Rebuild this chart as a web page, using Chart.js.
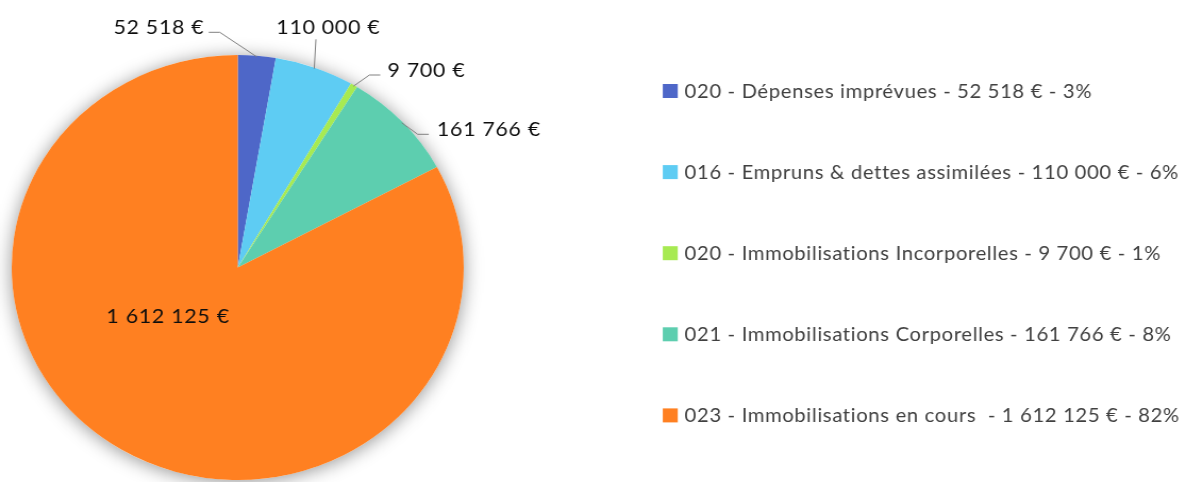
<!DOCTYPE html>
<html>
<head>
<meta charset="utf-8">
<script src="https://cdn.jsdelivr.net/npm/chart.js@4"></script>
<style>
  html, body { margin: 0; padding: 0; background: #ffffff; overflow: hidden; }
  #wrap { width: 1115px; height: 482px; transform: scaleX(1.06368); transform-origin: 0 0; }
  canvas { display: block; }
</style>
</head>
<body>
<div id="wrap"><canvas id="chart" width="1115" height="482"></canvas></div>
<script>
// ---- data ----
const categories = [
  '020 - Dépenses imprévues',
  '016 - Empruns & dettes assimilées',
  '020 - Immobilisations Incorporelles',
  '021 - Immobilisations Corporelles',
  '023 - Immobilisations en cours '
];
const values = [52518, 110000, 9700, 161766, 1612125];
const valueLabels = ['52 518 €', '110 000 €', '9 700 €', '161 766 €', '1 612 125 €'];
const percentLabels = ['3%', '6%', '1%', '8%', '82%'];
const colors = ['#4E67C8', '#5ECCF3', '#A7EA52', '#5DCEAF', '#FF8021'];

const legendTexts = categories.map((c, i) => c + ' - ' + valueLabels[i] + ' - ' + percentLabels[i]);

// ---- style / placement (offsets from pie centre, unstretched px) ----
const labelPlacement = [
  { x: -31.4, y: -240.8, align: 'right',  elbow: [[-27.3, -235.2], [-16.9, -235.2]] },
  { x: 85.2,  y: -240.8, align: 'center', elbow: [[73.5, -228.2]] },
  { x: 140.8, y: -197.5, align: 'left',   elbow: [[134.0, -192.5], [123.8, -192.5]] },
  { x: 187.3, y: -139.2, align: 'left',   elbow: [[179.6, -133.2], [169.2, -133.2]] },
  { x: -65.5, y: 48.5,   align: 'center', elbow: null }
];
const FONT = 'Lato, "Open Sans", sans-serif';
const LABEL_SIZE = 20, LABEL_TARGET_W = 115.9;   // width of the widest value label
const LEGEND_SIZE = 19, LEGEND_TARGET_W = 383;    // width of first legend row
const legendStyle = { boxX: 623.1, boxW: 14.1, boxH: 14, textX: 643.6, top: 91, gap: 81.1, color: '#404040' };

function fitSpacing(ctx, text, size, target) {
  ctx.font = size + 'px ' + FONT;
  if ('letterSpacing' in ctx) ctx.letterSpacing = '0px';
  const w = ctx.measureText(text).width;
  return Math.max(0, (target - w) / text.length);
}

const shadowPlugin = {
  id: 'pieShadow',
  beforeDatasetsDraw(chart) {
    const arc = chart.getDatasetMeta(0).data[0];
    const ctx = chart.ctx;
    ctx.save();
    ctx.shadowColor = 'rgba(0,0,0,0.42)';
    ctx.shadowBlur = 18;
    ctx.shadowOffsetY = 2;
    ctx.fillStyle = '#ffffff';
    ctx.beginPath();
    ctx.arc(arc.x, arc.y, arc.outerRadius, 0, Math.PI * 2);
    ctx.fill();
    ctx.restore();
  }
};

const valueLabelPlugin = {
  id: 'valueLabels',
  afterDatasetsDraw(chart) {
    const ctx = chart.ctx;
    const arcs = chart.getDatasetMeta(0).data;
    const cx = arcs[0].x, cy = arcs[0].y;
    const spacing = fitSpacing(ctx, valueLabels[4], LABEL_SIZE, LABEL_TARGET_W);
    ctx.save();
    arcs.forEach((arc, i) => {
      const p = labelPlacement[i];
      if (p.elbow) {
        const mid = (arc.startAngle + arc.endAngle) / 2;
        const r = arc.outerRadius * 0.995;
        ctx.strokeStyle = '#808080';
        ctx.lineWidth = 1;
        ctx.beginPath();
        ctx.moveTo(cx + p.elbow[0][0], cy + p.elbow[0][1]);
        for (let k = 1; k < p.elbow.length; k++) ctx.lineTo(cx + p.elbow[k][0], cy + p.elbow[k][1]);
        ctx.lineTo(cx + Math.cos(mid) * r, cy + Math.sin(mid) * r);
        ctx.stroke();
      }
      ctx.font = LABEL_SIZE + 'px ' + FONT;
      if ('letterSpacing' in ctx) ctx.letterSpacing = spacing.toFixed(2) + 'px';
      ctx.fillStyle = '#0D0D0D';
      ctx.textBaseline = 'alphabetic';
      const w = ctx.measureText(valueLabels[i]).width;
      let x = cx + p.x;
      if (p.align === 'right') x -= w;
      else if (p.align === 'center') x -= w / 2;
      ctx.textAlign = 'left';
      ctx.fillText(valueLabels[i], x, cy + p.y + LABEL_SIZE * 0.36);
    });
    ctx.restore();
  }
};

const legendPlugin = {
  id: 'sideLegend',
  afterDraw(chart) {
    const ctx = chart.ctx;
    const s = legendStyle;
    const spacing = fitSpacing(ctx, legendTexts[0], LEGEND_SIZE, LEGEND_TARGET_W);
    ctx.save();
    legendTexts.forEach((t, i) => {
      const y = s.top + i * s.gap;
      ctx.fillStyle = colors[i];
      ctx.fillRect(s.boxX, y - s.boxH / 2, s.boxW, s.boxH);
      ctx.font = LEGEND_SIZE + 'px ' + FONT;
      if ('letterSpacing' in ctx) ctx.letterSpacing = spacing.toFixed(2) + 'px';
      ctx.fillStyle = s.color;
      ctx.textAlign = 'left';
      ctx.textBaseline = 'alphabetic';
      ctx.fillText(t, s.textX, y + LEGEND_SIZE * 0.36);
    });
    ctx.restore();
  }
};

new Chart(document.getElementById('chart'), {
  type: 'pie',
  data: {
    labels: legendTexts,
    datasets: [{
      data: values,
      backgroundColor: colors,
      borderWidth: 0,
      hoverOffset: 0,
      offset: 0
    }]
  },
  options: {
    responsive: false,
    animation: false,
    events: [],
    layout: { padding: { left: 11, right: 679, top: 55, bottom: 2 } },
    plugins: {
      legend: { display: false },
      tooltip: { enabled: false }
    }
  },
  plugins: [shadowPlugin, valueLabelPlugin, legendPlugin]
});
</script>
</body>
</html>
